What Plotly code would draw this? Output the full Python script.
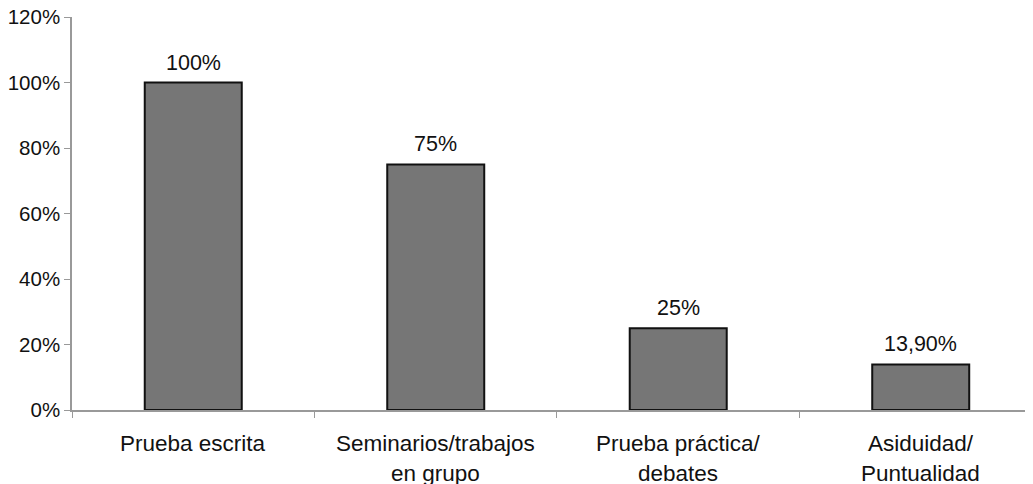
import plotly.graph_objects as go

categories = ["Prueba escrita", "Seminarios/trabajos<br>en grupo",
              "Prueba práctica/<br>debates", "Asiduidad/<br>Puntualidad"]
values = [1.00, 0.75, 0.25, 0.139]
value_labels = ["100%", "75%", "25%", "13,90%"]
y_ticks = [0, 0.2, 0.4, 0.6, 0.8, 1.0, 1.2]
y_tick_labels = ["0%", "20%", "40%", "60%", "80%", "100%", "120%"]

fig = go.Figure(go.Bar(
    x=categories, y=values, width=0.4,
    marker=dict(color="#767676", line=dict(color="#111111", width=2)),
    hoverinfo="skip",
))

for c, v, t in zip(categories, values, value_labels):
    fig.add_annotation(x=c, y=v, text=t, showarrow=False, yanchor="bottom",
                       yshift=6, font=dict(size=21.5, color="#111111"))

# category labels, one annotation per line (for wider line spacing)
for c in categories:
    for i, line in enumerate(c.split("<br>")):
        fig.add_annotation(x=c, y=0, text=line, showarrow=False, yanchor="top",
                           yshift=-19 - 30 * i, font=dict(size=22.5, color="#111111"))

fig.update_layout(
    width=1025, height=476,
    margin=dict(l=64, r=0, t=9, b=74),
    paper_bgcolor="white", plot_bgcolor="white",
    font=dict(family="Liberation Sans, Arial, sans-serif", color="#111111"),
    showlegend=False,
    bargap=0.6,
)
fig.update_xaxes(
    type="category", range=[-0.5, 3.463], automargin=False,
    showline=True, linecolor="#999999", linewidth=1.5,
    ticks="outside", tickson="boundaries", ticklen=6, tickcolor="#999999",
    showticklabels=False, showgrid=False, zeroline=False,
)
fig.update_yaxes(
    range=[0, 1.2], tickvals=y_ticks, ticktext=y_tick_labels, automargin=False,
    ticklabeloverflow="allow",
    showline=True, linecolor="#999999", linewidth=1.5,
    ticks="outside", ticklen=6, tickcolor="#999999",
    tickfont=dict(size=20.5), showgrid=False, zeroline=False,
)

fig.write_html("out.html")
